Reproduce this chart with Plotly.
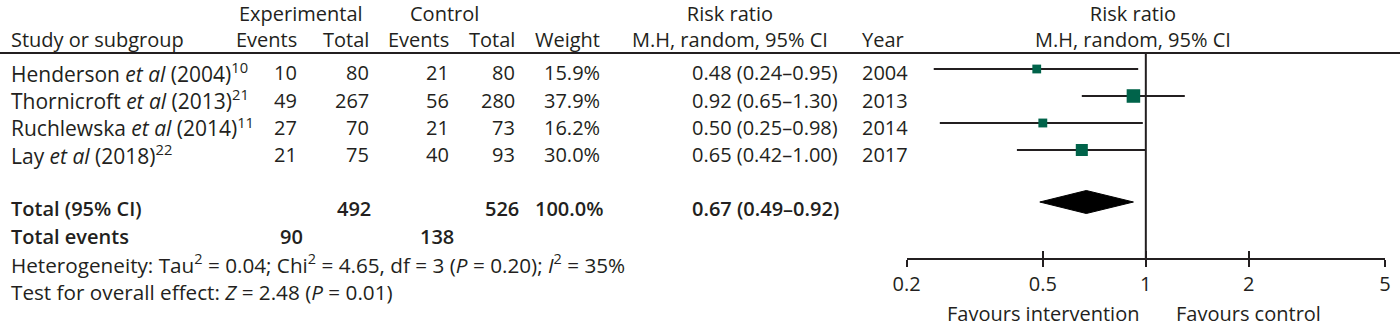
import math
import plotly.graph_objects as go

# ---------------- data ----------------
studies = ["Henderson <i>et al</i> (2004)<sup>10</sup>",
           "Thornicroft <i>et al</i> (2013)<sup>21</sup>",
           "Ruchlewska <i>et al</i> (2014)<sup>11</sup>",
           "Lay <i>et al</i> (2018)<sup>22</sup>"]
exp_events = [10, 49, 27, 21]
exp_total = [80, 267, 70, 75]
ctl_events = [21, 56, 21, 40]
ctl_total = [80, 280, 73, 93]
weights = [15.9, 37.9, 16.2, 30.0]
rr = [0.48, 0.92, 0.50, 0.65]
rr_lo = [0.24, 0.65, 0.25, 0.42]
rr_hi = [0.95, 1.30, 0.98, 1.00]
years = [2004, 2013, 2014, 2017]

tot_exp_total = 492
tot_ctl_total = 526
tot_weight = "100.0%"
tot_exp_events = 90
tot_ctl_events = 138
pooled = 0.67
pooled_lo = 0.49
pooled_hi = 0.92

heterogeneity = ("Heterogeneity: Tau<sup>2</sup> = 0.04; Chi<sup>2</sup> = 4.65, df = 3 "
                 "(<i>P</i> = 0.20); <i>I</i><sup>2</sup> = 35%")
overall = "Test for overall effect: <i>Z</i> = 2.48 (<i>P</i> = 0.01)"

tick_vals = [0.2, 0.5, 1, 2, 5]
tick_text = ["0.2", "0.5", "1", "2", "5"]
favours_left = "Favours intervention"
favours_right = "Favours control"

# ---------------- layout constants (pixels) ----------------
W, H = 1400, 328
FONT = "Open Sans"
TXT = "#231f20"
GREEN = "#00634a"
FS = 20          # numbers / headers
FL = 21          # study names
AXIS_Y = 258
RULE_Y = 53
ROW_MARK_Y = [69 + 27 * i for i in range(4)]
ROW_TEXT_Y = [y + 4 for y in ROW_MARK_Y]
AX_LEFT, AX_RIGHT = 905, 1383     # screen pixels of the 0.2 and 5 ticks

# the page is photographed slightly compressed horizontally; map target pixel -> figure pixel
SX, OX = 0.985, 13.0


def X(p):
    return (p - OX) / SX


def px(p):
    return X(p) / W


def py(p):
    return 1 - p / H


fig = go.Figure()

for i in range(len(rr)):
    fig.add_trace(go.Scatter(x=[rr_lo[i], rr_hi[i]], y=[ROW_MARK_Y[i]] * 2, mode="lines",
                             line=dict(color="#231f20", width=2), hoverinfo="skip",
                             showlegend=False))
fig.add_trace(go.Scatter(x=rr, y=ROW_MARK_Y, mode="markers",
                         marker=dict(symbol="square", color=GREEN, opacity=1,
                                     size=[2.2 * w ** 0.5 for w in weights],
                                     line=dict(width=0)),
                         showlegend=False, hoverinfo="skip"))
dy = 11.5
dc = 202
fig.add_trace(go.Scatter(x=[pooled_lo, pooled, pooled_hi, pooled, pooled_lo],
                         y=[dc, dc - dy, dc, dc + dy, dc], mode="lines", fill="toself",
                         fillcolor="black", line=dict(color="black", width=1),
                         showlegend=False, hoverinfo="skip"))

ann = []


def T(x, y, text, anchor="left", bold=False, size=FS, yanchor="middle"):
    ann.append(dict(x=px(x), y=py(y), xref="paper", yref="paper", text=text,
                    showarrow=False, xanchor=anchor, yanchor=yanchor, align=anchor,
                    borderpad=0, borderwidth=0,
                    font=dict(family=FONT, size=size, color=TXT,
                              weight=600 if bold else 400)))


# header row 1 (top-anchored at the page top) and row 2 (top-anchored below it)
T(300, 0, "Experimental", "center", yanchor="top")
T(443, 0, "Control", "center", yanchor="top")
T(728, 0, "Risk ratio<br>M.H, random, 95% CI", "center", yanchor="top")
T(1131, 0, "Risk ratio<br>M.H, random, 95% CI", "center", yanchor="top")
T(10, 26, "Study or subgroup", yanchor="top")
T(296, 26, "Events", "right", yanchor="top")
T(368, 26, "Total", "right", yanchor="top")
T(448, 26, "Events", "right", yanchor="top")
T(514, 26, "Total", "right", yanchor="top")
T(599, 26, "Weight", "right", yanchor="top")
T(860, 26, "Year", yanchor="top")

# study names as one multi-line block (line spacing 1.3 * 21 px ~ row pitch)
T(10, sum(ROW_TEXT_Y) / len(ROW_TEXT_Y), "<br>".join(studies), size=FL)
for i in range(len(studies)):
    y = ROW_TEXT_Y[i]
    T(296, y, str(exp_events[i]), "right")
    T(368, y, str(exp_total[i]), "right")
    T(448, y, str(ctl_events[i]), "right")
    T(514, y, str(ctl_total[i]), "right")
    T(599, y, f"{weights[i]:.1f}%", "right")
    T(836, y, f"{rr[i]:.2f} ({rr_lo[i]:.2f}\u2013{rr_hi[i]:.2f})", "right")
    T(860, y, str(years[i]))

T(10, 208, "Total (95% CI)", bold=True)
T(370, 208, str(tot_exp_total), "right", bold=True)
T(518, 208, str(tot_ctl_total), "right", bold=True)
T(603, 208, tot_weight, "right", bold=True)
T(837, 208, f"{pooled:.2f} ({pooled_lo:.2f}\u2013{pooled_hi:.2f})", "right", bold=True)
T(10, 236, "Total events", bold=True)
T(302, 236, str(tot_exp_events), "right", bold=True)
T(453, 236, str(tot_ctl_events), "right", bold=True)
T(10, 277.5, heterogeneity + "<br>" + overall, size=20.7)

for xv, t in [(0.5, favours_left), (2, favours_right)]:
    ann.append(dict(x=math.log10(xv), y=py(313), xref="x", yref="paper", text=t,
                    showarrow=False, xanchor="center", yanchor="middle",
                    borderpad=0, borderwidth=0,
                    font=dict(family=FONT, size=FS, color=TXT)))

shapes = [
    dict(type="line", xref="paper", yref="paper", x0=-0.02, x1=1.02,
         y0=py(RULE_Y), y1=py(RULE_Y), line=dict(color="#231f20", width=2)),
    dict(type="line", xref="x", yref="paper", x0=1, x1=1, y0=py(RULE_Y), y1=py(AXIS_Y),
         line=dict(color="#231f20", width=2)),
]

x_range = [math.log10(tick_vals[0]), math.log10(tick_vals[-1])]
fig.update_layout(
    width=W, height=H, margin=dict(l=0, r=0, t=0, b=0),
    paper_bgcolor="white", plot_bgcolor="white",
    annotations=ann, shapes=shapes,
    xaxis=dict(type="log", domain=[px(AX_LEFT), px(AX_RIGHT)], range=x_range,
               tickvals=tick_vals, ticktext=tick_text, ticks="outside", ticklen=7,
               tickwidth=2, tickcolor="#231f20", showline=True, linewidth=2,
               linecolor="#231f20", showgrid=False, zeroline=False,
               tickfont=dict(family=FONT, size=FS, color=TXT), anchor="y"),
    xaxis2=dict(type="log", domain=[px(AX_LEFT), px(AX_RIGHT)], matches="x", overlaying="x",
                anchor="free", position=py(AXIS_Y), side="bottom", range=x_range,
                tickvals=tick_vals, ticks="inside", ticklen=7, tickwidth=2,
                tickcolor="#231f20", showticklabels=False, showgrid=False,
                zeroline=False, showline=False),
    yaxis=dict(domain=[py(AXIS_Y), 1], range=[AXIS_Y, 0], visible=False, fixedrange=True),
    showlegend=False,
)
fig.add_trace(go.Scatter(x=[1], y=[0], xaxis="x2", mode="markers",
                         marker=dict(opacity=0), hoverinfo="skip", showlegend=False))

fig.write_html("out.html", config={"displayModeBar": False},
               post_script="document.body.style.margin='0';")
